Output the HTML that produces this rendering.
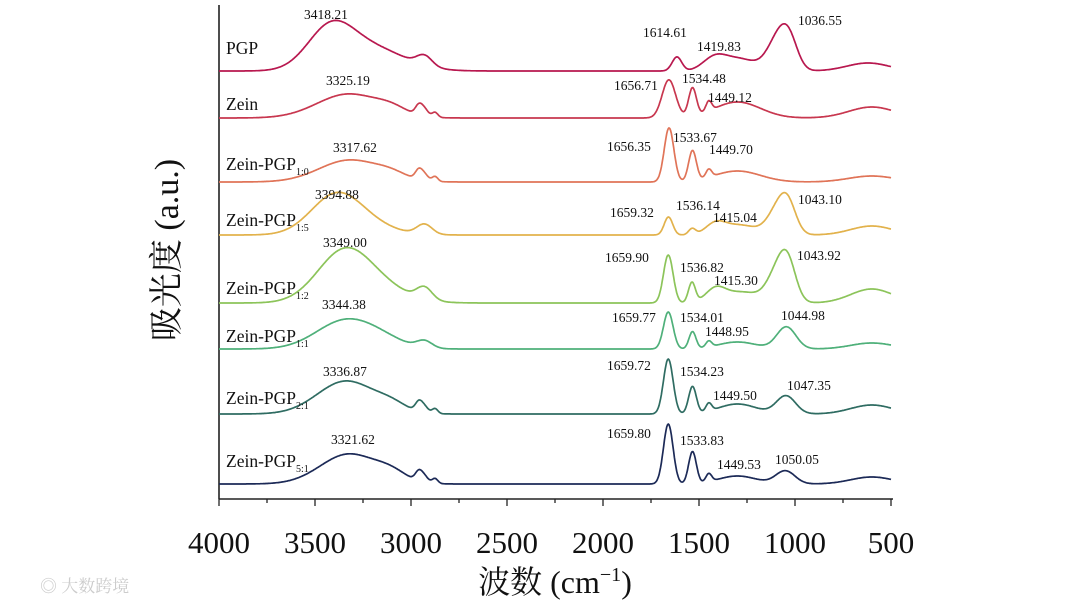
<!DOCTYPE html>
<html><head><meta charset="utf-8">
<style>
html,body{margin:0;padding:0;background:#fff;}
#wrap{position:relative;width:1080px;height:608px;overflow:hidden;background:#fff;}
svg text{font-family:"Liberation Serif","Noto Serif CJK SC",serif;}
</style></head>
<body>
<div id="wrap">
<svg id="chart" width="1080" height="608" viewBox="0 0 1080 608">
  <g id="axes"></g>
  <g id="series"></g>
  <g id="labels"></g>
  <text x="178" y="250" font-size="34" text-anchor="middle" transform="rotate(-90 178 250)" fill="#111">吸光度 (a.u.)</text>
  <text x="555" y="593" font-size="32" text-anchor="middle" fill="#111">波数 (cm<tspan dy="-12" font-size="20">−1</tspan><tspan dy="12">)</tspan></text>
  <text x="40" y="592" font-size="17" fill="#ccc" font-family="'Noto Sans CJK SC',sans-serif">◎ 大数跨境</text>
</svg>
</div>
<script>
// ---- data ----
const xTicks = [4000, 3500, 3000, 2500, 2000, 1500, 1000, 500];
const seriesNames = ["PGP", "Zein", "Zein-PGP", "Zein-PGP", "Zein-PGP", "Zein-PGP", "Zein-PGP", "Zein-PGP"];
const seriesSubs = ["", "", "1:0", "1:5", "1:2", "1:1", "2:1", "5:1"];
const seriesColors = ["#b8184f", "#c8374f", "#e07458", "#e2b24c", "#8cc45a", "#4fb07a", "#2f6c62", "#1c2a57"];
const seriesOffsets = [71, 118, 182, 235, 303, 349, 414, 484];
// peaks: [wavenumber, height, width]
const peaksPGP = [[3420,40,120],[3200,22,170],[2930,10,40],[1615,14,25],[1420,12,60],[1290,12,90],[1090,30,55],[1030,26,45],[620,8,110]];
const peaksZein = [[3325,24,165],[3100,6,80],[2960,9,18],[2930,7,20],[2875,5,15],[1657,38,35],[1534,28,20],[1449,10,15],[1300,16,120],[600,11,120]];
const peaks10 = [[3318,22,160],[3100,5,80],[2960,9,18],[2930,6,20],[2875,5,15],[1656,54,25],[1534,30,20],[1449,8,15],[1300,11,120],[600,6,120]];
const peaks15 = [[3395,36,130],[3250,10,150],[2930,10,40],[1659,18,22],[1536,6,18],[1415,10,50],[1290,10,90],[1085,26,55],[1035,22,42],[600,9,110]];
const peaks12 = [[3349,50,140],[3150,12,150],[2930,12,40],[1660,48,25],[1537,20,18],[1415,12,50],[1280,11,100],[1085,32,55],[1035,28,42],[600,14,110]];
const peaks11 = [[3344,28,150],[3150,7,120],[2930,7,40],[1660,37,25],[1534,17,18],[1449,6,15],[1300,7,100],[1045,22,50],[600,6,110]];
const peaks21 = [[3337,33,150],[3100,7,80],[2960,9,18],[2930,6,20],[2875,5,15],[1660,55,25],[1534,27,20],[1449,8,15],[1300,10,100],[1047,18,50],[600,9,110]];
const peaks51 = [[3322,30,150],[3100,8,80],[2960,9,18],[2930,6,20],[2875,5,15],[1660,60,25],[1534,32,20],[1449,8,15],[1300,8,100],[1050,13,50],[600,7,110]];
const allPeaks = [peaksPGP, peaksZein, peaks10, peaks15, peaks12, peaks11, peaks21, peaks51];
const nameY = [54, 110, 170, 226, 294, 342, 404, 467];
// annotation labels
const annText = ["3418.21","1614.61","1419.83","1036.55","3325.19","1656.71","1534.48","1449.12","3317.62","1656.35","1533.67","1449.70","3394.88","1659.32","1536.14","1415.04","1043.10","3349.00","1659.90","1536.82","1415.30","1043.92","3344.38","1659.77","1534.01","1448.95","1044.98","3336.87","1659.72","1534.23","1449.50","1047.35","3321.62","1659.80","1533.83","1449.53","1050.05"];
const annX = [304,643,697,798,326,614,682,708,333,607,673,709,315,610,676,713,798,323,605,680,714,797,322,612,680,705,781,323,607,680,713,787,331,607,680,717,775];
const annY = [19,37,51,25,85,90,83,102,152,151,142,154,199,217,210,222,204,247,262,272,285,260,309,322,322,336,320,376,370,376,400,390,444,438,445,469,464];

// ---- scales ----
const X0 = 219, X1 = 891, W0 = 4000, W1 = 500, YB = 499, YT = 5;
function xScale(w){ return X0 + (W0 - w) * (X1 - X0) / (W0 - W1); }
function yScale(v, off){ return off - v; }
function absorb(w, peaks){
  let s = 0;
  for (const p of peaks){ const d = w - p[0]; s += p[1] * Math.exp(-d*d/(2*p[2]*p[2])); }
  return s;
}
const NS = "http://www.w3.org/2000/svg";
function mk(tag, attrs, parent){
  const e = document.createElementNS(NS, tag);
  for (const k in attrs) e.setAttribute(k, attrs[k]);
  parent.appendChild(e); return e;
}
// ---- axes ----
const ax = document.getElementById("axes");
const yAxis = mk("line", {x1:X0, y1:YT, x2:X0, y2:YB, stroke:"#222", "stroke-width":1.6}, ax);


const xAxis = mk("line", {x1:X0, y1:YB, x2:X1+2, y2:YB, stroke:"#222", "stroke-width":1.6}, ax);


for (let w = W0; w >= W1; w -= 250){
  const major = xTicks.includes(w);
  const t = mk("line", {x1:xScale(w), y1:YB, x2:xScale(w), y2:YB + (major ? 7 : 4), stroke:"#222", "stroke-width":1.3}, ax);
  
  
}
xTicks.forEach(w => {
  const t = mk("text", {x:xScale(w), y:553, "font-size":31, "text-anchor":"middle", fill:"#111"}, ax);
  t.textContent = w;
  
  
});
// ---- series ----
const sg = document.getElementById("series");
allPeaks.forEach((peaks, i) => {
  let d = "";
  for (let w = W0; w >= W1; w -= 4){
    const x = xScale(w), y = yScale(absorb(w, peaks), seriesOffsets[i]);
    d += (d ? "L" : "M") + x.toFixed(1) + " " + y.toFixed(1);
  }
  const p = mk("path", {d:d, fill:"none", stroke:seriesColors[i], "stroke-width":1.7, "stroke-linejoin":"round"}, sg);
  
  
  const t = mk("text", {x:226, y:nameY[i], "font-size":17.5, fill:"#111"}, sg);
  t.textContent = seriesNames[i];
  if (seriesSubs[i]){
    const s = mk("tspan", {dy:5, "font-size":10}, t);
    s.textContent = seriesSubs[i];
  }
  
  
});
// ---- annotations ----
const lg = document.getElementById("labels");
annText.forEach((s, i) => {
  const t = mk("text", {x:annX[i], y:annY[i], "font-size":13.5, fill:"#111"}, lg);
  t.textContent = s;
  
  
});
</script>
</body></html>
